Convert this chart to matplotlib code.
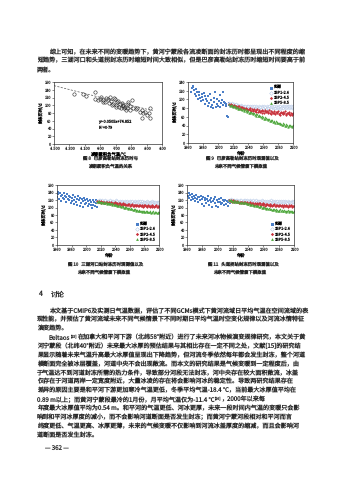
import matplotlib
matplotlib.use('Agg')
import matplotlib.pyplot as plt
import numpy as np

plt.rcParams['font.family'] = ['Noto Sans CJK SC', 'DejaVu Sans']
plt.rcParams['axes.unicode_minus'] = False
plt.rcParams['text.hinting'] = 'no_hinting'
plt.rcParams['text.hinting_factor'] = 1

# ---------------- data ----------------
# Fig 8: cumulative negative temperature vs freeze-up duration (Bayangaole)
x8 = [-1240, -1120, -1090, -975, -968, -935, -905, -885, -870, -860,
      -842, -830, -800, -790, -775, -760, -752, -735, -728, -712,
      -700, -690, -680, -668, -655, -645, -630, -622, -610, -600,
      -590, -578, -565, -557, -545, -535, -520, -512, -495, -470,
      -440, -420, -385, -362, -340, -318, -300, -270, -255, -362, -258]
y8 = [128, 130, 124, 134, 115, 113, 117, 121, 108, 113,
      109, 119, 117, 106, 121, 110, 100, 104, 118, 117,
      96, 100, 109, 112, 96, 102, 92, 106, 100, 98,
      92, 96, 88, 92, 104, 109, 87, 98, 113, 92,
      90, 92, 83, 87, 79, 83, 74, 80, 92, 66, 66]
fit_slope = -0.0505
fit_intercept = 74.852
fit_r2 = 0.79
x8_ticks = [-1500, -1300, -1100, -900, -700, -500, -300, -100]
x8_ticklabels = ['-1 500', '-1 300', '-1 100', '-900', '-700', '-500', '-300', '-100']

series_names = ['实测', 'SSP1-2.6', 'SSP2-4.5', 'SSP5-8.5']
ssp_years = list(range(2015, 2101))

# Fig 9: Bayangaole
obs9_years = list(range(1964, 2018))
obs9 = [118, 126, 130, 128, 122, 112, 124, 108, 116, 100,
        110, 118, 104, 96, 112, 106, 98, 114, 108, 90,
        102, 96, 84, 108, 92, 112, 82, 98, 88, 80,
        104, 94, 118, 82, 90, 100, 86, 96, 110, 82,
        92, 98, 116, 88, 94, 92, 86, 90, 62, 60,
        88, 92, 86, 90]
ssp126_9 = [92, 88, 90, 86, 91, 87, 89, 85, 88, 90,
            86, 84, 88, 85, 83, 87, 84, 86, 82, 85,
            83, 86, 81, 84, 82, 85, 80, 83, 86, 82,
            84, 80, 83, 85, 81, 79, 84, 82, 80, 85,
            81, 83, 79, 84, 82, 80, 85, 81, 83, 79,
            84, 82, 80, 86, 81, 83, 79, 85, 82, 80,
            84, 81, 86, 80, 83, 82, 85, 79, 84, 81,
            83, 86, 80, 84, 82, 85, 81, 83, 86, 80,
            84, 82, 85, 81, 83, 86]
ssp245_9 = [90, 87, 89, 85, 88, 84, 87, 83, 86, 84,
            82, 85, 81, 84, 80, 83, 79, 82, 80, 78,
            81, 77, 80, 76, 79, 75, 78, 80, 76, 74,
            77, 73, 76, 78, 74, 72, 75, 77, 71, 74,
            76, 72, 74, 70, 75, 73, 69, 74, 76, 71,
            73, 68, 72, 75, 70, 67, 73, 71, 69, 74,
            70, 66, 72, 68, 71, 74, 67, 70, 65, 72,
            68, 71, 66, 70, 73, 67, 64, 70, 68, 66,
            71, 65, 69, 67, 64, 68]
ssp585_9 = [89, 86, 88, 84, 87, 83, 85, 82, 84, 81,
            83, 79, 81, 78, 80, 77, 79, 75, 78, 76,
            74, 77, 73, 75, 71, 74, 70, 72, 69, 71,
            68, 70, 66, 69, 65, 67, 63, 66, 62, 64,
            61, 63, 59, 62, 58, 60, 56, 59, 55, 57,
            54, 56, 52, 55, 51, 53, 50, 52, 48, 51,
            49, 47, 50, 46, 48, 45, 47, 43, 46, 44,
            42, 45, 41, 43, 40, 44, 38, 42, 37, 41,
            39, 42, 38, 40, 37, 41]

# Fig 10: Sanhuhekou
obs10_years = list(range(1960, 2017))
obs10 = [128, 142, 135, 124, 138, 130, 118, 134, 126, 140,
         122, 132, 128, 115, 136, 124, 130, 120, 127, 112,
         126, 118, 133, 121, 110, 128, 116, 124, 108, 130,
         119, 105, 125, 113, 122, 101, 117, 126, 109, 120,
         112, 124, 103, 118, 110, 121, 106, 115, 100, 119,
         108, 116, 104, 120, 111, 102, 117]
ssp126_10 = [118, 115, 119, 116, 120, 114, 117, 119, 115, 118,
             116, 119, 114, 117, 115, 118, 113, 116, 119, 115,
             117, 114, 118, 115, 112, 116, 119, 114, 117, 113,
             116, 118, 113, 115, 117, 112, 116, 114, 118, 113,
             115, 117, 112, 116, 114, 118, 113, 115, 117, 112,
             116, 113, 117, 114, 112, 116, 118, 113, 115, 117,
             112, 115, 117, 113, 116, 114, 111, 116, 113, 117,
             114, 112, 116, 113, 115, 117, 112, 114, 116, 113,
             115, 112, 116, 114, 113, 116]
ssp245_10 = [117, 114, 118, 115, 116, 113, 117, 114, 116, 112,
             115, 113, 116, 112, 114, 111, 115, 113, 110, 114,
             112, 110, 113, 111, 114, 109, 112, 110, 113, 108,
             111, 109, 112, 108, 110, 107, 111, 109, 106, 110,
             108, 106, 109, 107, 110, 105, 108, 106, 109, 104,
             107, 105, 108, 106, 103, 107, 105, 108, 104, 106,
             103, 107, 105, 102, 106, 104, 107, 103, 105, 102,
             106, 104, 101, 105, 103, 106, 102, 104, 101, 105,
             103, 106, 102, 104, 101, 103]
ssp585_10 = [116, 118, 114, 117, 115, 113, 116, 114, 112, 115,
             113, 111, 114, 112, 110, 113, 111, 109, 112, 110,
             108, 111, 109, 107, 110, 106, 108, 105, 107, 104,
             106, 103, 105, 102, 104, 101, 103, 100, 102, 99,
             101, 98, 100, 97, 99, 96, 98, 95, 97, 94,
             96, 93, 95, 92, 94, 93, 91, 94, 90, 92,
             91, 89, 92, 90, 88, 91, 89, 92, 88, 90,
             89, 87, 90, 88, 86, 89, 87, 90, 86, 88,
             87, 89, 86, 88, 85, 87]

# Fig 11: Toudaoguai
obs11_years = list(range(1960, 2017))
obs11 = [112, 130, 138, 125, 133, 120, 128, 136, 122, 131,
         126, 118, 134, 123, 129, 115, 127, 121, 132, 110,
         124, 128, 104, 119, 126, 113, 122, 117, 130, 108,
         121, 115, 125, 102, 118, 123, 111, 127, 105, 120,
         114, 101, 122, 116, 109, 125, 112, 119, 106, 117,
         121, 110, 118, 105, 115, 120, 112]
ssp126_11 = [121, 118, 122, 119, 117, 121, 118, 120, 116, 119,
             117, 121, 118, 116, 120, 117, 119, 115, 118, 121,
             116, 119, 117, 120, 115, 118, 116, 119, 117, 114,
             118, 116, 119, 115, 117, 120, 116, 114, 118, 117,
             115, 118, 116, 119, 114, 117, 115, 118, 116, 113,
             117, 115, 118, 114, 116, 119, 115, 117, 113, 116,
             118, 114, 116, 117, 113, 116, 118, 114, 117, 115,
             113, 117, 115, 118, 114, 116, 113, 117, 115, 114,
             116, 113, 117, 115, 114, 117]
ssp245_11 = [120, 117, 121, 118, 116, 119, 117, 115, 118, 116,
             114, 117, 115, 113, 116, 114, 112, 115, 113, 116,
             112, 114, 111, 113, 115, 110, 113, 111, 114, 109,
             112, 110, 113, 108, 111, 109, 112, 107, 110, 112,
             108, 111, 106, 109, 111, 107, 110, 105, 109, 107,
             110, 106, 108, 105, 109, 107, 104, 108, 106, 109,
             105, 108, 103, 107, 105, 108, 104, 106, 103, 107,
             105, 102, 106, 104, 107, 103, 105, 102, 106, 104,
             103, 106, 102, 105, 103, 104]
ssp585_11 = [119, 121, 117, 120, 118, 116, 119, 117, 115, 118,
             116, 114, 117, 115, 113, 116, 114, 112, 115, 113,
             111, 114, 112, 110, 113, 109, 111, 108, 110, 107,
             109, 106, 108, 105, 107, 104, 106, 103, 105, 102,
             104, 101, 103, 100, 102, 99, 101, 98, 100, 97,
             99, 96, 98, 95, 97, 96, 94, 97, 93, 95,
             94, 92, 95, 93, 91, 94, 92, 95, 91, 93,
             92, 90, 93, 91, 89, 92, 90, 93, 89, 91,
             90, 92, 89, 91, 88, 90]

# ---------------- text ----------------
para_top = [
    "综上可知，在未来不同的变暖趋势下，黄河宁蒙段各流凌断面的封冻历时都呈现出不同程度的缩",
    "短趋势，三湖河口和头道拐封冻历时缩短时间大致相似，但是巴彦高勒站封冻历时缩短时间要高于前",
    "两者。",
]
# each line: list of (text, is_superscript)
para_disc = [
    [("本文基于CMIP6及实测日气温数据，评估了不同GCMs模式下黄河流域日平均气温在空间流域的表", False)],
    [("现性能，并预估了黄河流域未来不同气候情景下不同时期日平均气温时空变化规律以及河流冰情特征", False)],
    [("演变趋势。", False)],
    [("Beltaos", False), ("[15]", True),
     ("在加拿大和平河下游（北纬58°附近）进行了未来河冰物候演变规律研究，本文关于黄", False)],
    [("河宁蒙段（北纬40°附近）未来最大冰厚的预估结果与其相比存在一定不同之处，文献[15]的研究结", False)],
    [("果显示随着未来气温升高最大冰厚值呈现出下降趋势，但河流冬季依然每年都会发生封冻，整个河道", False)],
    [("横断面完全被冰层覆盖，河道中央不会出现敞流。而本文的研究结果是气候变暖到一定程度后，由", False)],
    [("于气温达不到河道封冻所需的热力条件，导致部分河段无法封冻，河中央存在较大面积敞流，冰盖", False)],
    [("仅存在于河道两岸一定宽度附近，大量冰凌的存在将会影响河冰的稳定性。导致两研究结果存在", False)],
    [("差异的原因主要是和平河下游更加寒冷气温更低，冬季平均气温-18.4 ℃，当前最大冰厚值平均在", False)],
    [("0.89 m以上；而黄河宁蒙段最冷的1月份，月平均气温仅为-11.4 ℃", False), ("[16]", True),
     ("，2000年以来每", False)],
    [("年度最大冰厚值平均为0.54 m。和平河的气温更低、河冰更厚，未来一段时间内气温的变暖只会影", False)],
    [("响到和平河冰厚度的减小，而不会影响河道断面是否发生封冻；而黄河宁蒙河段相对和平河而言", False)],
    [("纬度更低、气温更高、冰厚更薄，未来的气候变暖不仅影响到河流冰盖厚度的缩减，而且会影响河", False)],
    [("道断面是否发生封冻。", False)],
]
disc_indent = [True, False, False, True] + [False] * 11

# ---------------- figure ----------------
W, H = 339, 480
fig = plt.figure(figsize=(W / 100, H / 100), dpi=100)
fig.patch.set_facecolor('white')
renderer = fig.canvas.get_renderer()
TXT_COLOR = '#2a2a2a'


def rect(l, t, r, b):
    return [l / W, 1 - b / H, (r - l) / W, (b - t) / H]


def ftext(px, py, s, size=4.4, ha='left', **kw):
    return fig.text(px / W, 1 - py / H, s, fontsize=size, ha=ha, va='center', color=TXT_COLOR, **kw)


def seg_text(px, py, segments, size):
    x = px
    for s, sup in segments:
        if sup:
            t = ftext(x + 0.3, py - 1.8, s, size * 0.6)
        else:
            t = ftext(x, py, s, size)
        x += t.get_window_extent(renderer).width


TICK_FS = 2.8
LAB_FS = 3.1


def style_ax(ax):
    for sp in ax.spines.values():
        sp.set_linewidth(0.5)
        sp.set_color('#333333')
    ax.tick_params(labelsize=TICK_FS, length=1.2, width=0.4, pad=0.8, direction='out', colors='#333333')


colors = {'obs': '#4A7EC7', 'ssp126': '#AFC4E4', 'ssp245': '#C8323C', 'ssp585': '#4FA83D'}


def plot_series(ax, oyears, ovals, s126, s245, s585, ymax, legend_loc):
    ax.plot(oyears, ovals, 's', color=colors['obs'], ms=1.8, mew=0, label=series_names[0])
    ax.plot(ssp_years, s126, 'D', mfc='white', mec=colors['ssp126'], ms=1.6, mew=0.35, label=series_names[1])
    ax.plot(ssp_years, s245, 'D', color=colors['ssp245'], ms=1.4, mew=0, label=series_names[2])
    ax.plot(ssp_years, s585, '^', color=colors['ssp585'], ms=1.7, mew=0, label=series_names[3])
    ax.set_xlim(1960, 2100)
    ax.set_ylim(0, ymax)
    ax.set_xticks(range(1960, 2101, 20))
    ax.set_yticks(range(0, ymax + 1, 20))
    ax.set_xlabel('年份', fontsize=LAB_FS, labelpad=0.5)
    ax.set_ylabel('封冻历时/d', fontsize=LAB_FS, labelpad=0.8)
    style_ax(ax)
    ax.legend(loc=legend_loc, fontsize=2.8, frameon=False, handlelength=0.7, handletextpad=0.3,
              labelspacing=0.2, borderaxespad=0.5, markerscale=1.2)


# Fig 8
ax1 = fig.add_axes(rect(54, 82, 162, 144))
ax1.plot(x8, y8, 'o', mfc='none', mec='#222222', ms=2.4, mew=0.4)
xx = np.array([-1500, -220])
ax1.plot(xx, fit_slope * xx + fit_intercept, '--', color='#555555', lw=0.5, dashes=(3, 2))
ax1.set_xlim(-1500, -100)
ax1.set_ylim(0, 160)
ax1.set_xticks(x8_ticks)
ax1.set_xticklabels(x8_ticklabels)
ax1.set_yticks(range(0, 161, 20))
ax1.set_xlabel('凌期累积负气温/℃', fontsize=LAB_FS, labelpad=0.3)
ax1.set_ylabel('封冻历时/d', fontsize=LAB_FS, labelpad=0.8)
style_ax(ax1)
ax1.text(-930, 58, f'y={fit_slope}x+{fit_intercept}', fontsize=2.8, va='center')
ax1.text(-930, 44, f'R$^2$={fit_r2}', fontsize=2.8, va='center')

# Fig 9
ax2 = fig.add_axes(rect(188, 82, 293, 143))
plot_series(ax2, obs9_years, obs9, ssp126_9, ssp245_9, ssp585_9, 140, 'upper right')

# Fig 10
ax3 = fig.add_axes(rect(57, 185, 159, 245))
plot_series(ax3, obs10_years, obs10, ssp126_10, ssp245_10, ssp585_10, 160, 'lower right')

# Fig 11
ax4 = fig.add_axes(rect(187, 185, 294, 245))
plot_series(ax4, obs11_years, obs11, ssp126_11, ssp245_11, ssp585_11, 160, 'lower right')

# captions
CAP = 3.2
ftext(111, 158, '图 8   巴彦高勒站封冻历时与', CAP, ha='center')
ftext(110, 166, '凌期累积负气温的关系', CAP, ha='center')
ftext(242, 158, '图 9   巴彦高勒站封冻历时观测值以及', CAP, ha='center')
ftext(241, 166, '未来不同气候情景下模拟值', CAP, ha='center')
ftext(106, 264, '图 10   三湖河口站封冻历时观测值以及', CAP, ha='center')
ftext(104, 272, '未来不同气候情景下模拟值', CAP, ha='center')
ftext(243, 264, '图 11   头道拐站封冻历时观测值以及', CAP, ha='center')
ftext(240, 272, '未来不同气候情景下模拟值', CAP, ha='center')

# body text
LS = 8.86
BODY = 4.4
for i, line in enumerate(para_top):
    ftext(49 if i == 0 else 37, 52 + i * LS, line, BODY)

ftext(38, 294, '4', 5.0)
ftext(51, 294, '讨论', 5.0)

for i, segs in enumerate(para_disc):
    seg_text(49 if disc_indent[i] else 37, 311 + i * LS, segs, BODY)

ftext(57, 448, '— 362 —', 4.4, ha='center')

fig.savefig('out.png', dpi=100, facecolor='white')
